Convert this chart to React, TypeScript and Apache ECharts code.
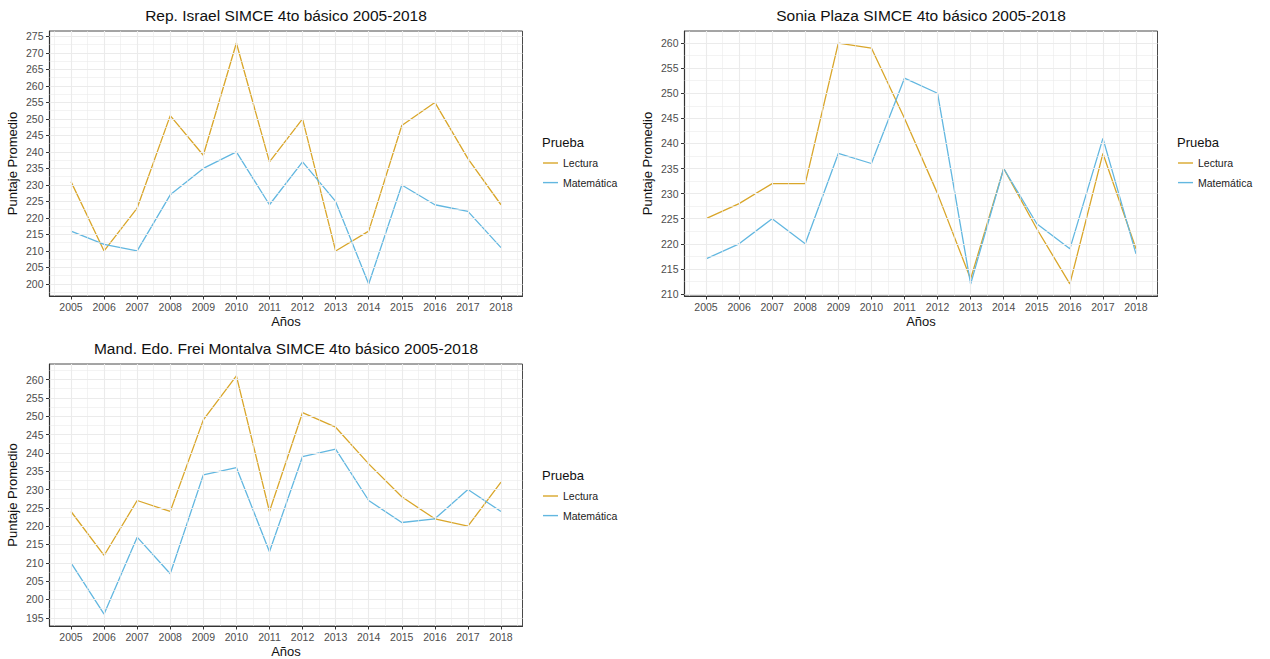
import React, { useEffect, useRef } from "react";
import * as echarts from "echarts";

// ---------- data ----------
const years = [2005, 2006, 2007, 2008, 2009, 2010, 2011, 2012, 2013, 2014, 2015, 2016, 2017, 2018];

const israelLectura = [231, 210, 223, 251, 239, 273, 237, 250, 210, 216, 248, 255, 238, 224];
const israelMatematica = [216, 212, 210, 227, 235, 240, 224, 237, 225, 200, 230, 224, 222, 211];

const soniaLectura = [225, 228, 232, 232, 260, 259, 245, 230, 213, 235, 223, 212, 238, 219];
const soniaMatematica = [217, 220, 225, 220, 238, 236, 253, 250, 212, 235, 224, 219, 241, 218];

const freiLectura = [224, 212, 227, 224, 249, 261, 224, 251, 247, 237, 228, 222, 220, 232];
const freiMatematica = [210, 196, 217, 207, 234, 236, 213, 239, 241, 227, 221, 222, 230, 224];

const israelYTicks = [200, 205, 210, 215, 220, 225, 230, 235, 240, 245, 250, 255, 260, 265, 270, 275];
const soniaYTicks = [210, 215, 220, 225, 230, 235, 240, 245, 250, 255, 260];
const freiYTicks = [195, 200, 205, 210, 215, 220, 225, 230, 235, 240, 245, 250, 255, 260];

const titles = [
  "Rep. Israel SIMCE 4to básico 2005-2018",
  "Sonia Plaza SIMCE 4to básico 2005-2018",
  "Mand. Edo. Frei Montalva SIMCE 4to básico 2005-2018",
];
const seriesNames = ["Lectura", "Matemática"];
const legendTitle = "Prueba";
const xAxisTitle = "Años";
const yAxisTitle = "Puntaje Promedio";

// ---------- style ----------
const FONT = "'Liberation Sans', Arial, Helvetica, sans-serif";
const COLORS = ["#D9A62A", "#62B7E0"];
const GRID_COLOR = "#EBEBEB";

const PANEL = { left: 49.5, top: 31, width: 473, height: 265 };
const OFFSETS = [
  { ox: 0, oy: 0 },
  { ox: 635, oy: 0 },
  { ox: 0, oy: 333 },
];

function expand(vals: number[]): [number, number] {
  const lo = Math.min(...vals);
  const hi = Math.max(...vals);
  const p = (hi - lo) * 0.05;
  return [lo - p, hi + p];
}

function minorBreaks(ticks: number[], lo: number, hi: number): number[] {
  const step = ticks[1] - ticks[0];
  const res: number[] = [];
  for (let v = ticks[0] - step / 2; v <= ticks[ticks.length - 1] + step / 2 + 1e-9; v += step) {
    if (v >= lo && v <= hi) res.push(v);
  }
  return res;
}

export default function App() {
  const ref = useRef<HTMLDivElement>(null);

  useEffect(() => {
    if (!ref.current) return;
    const chart = echarts.init(ref.current, undefined, { renderer: "svg" });

    const panels = [
      { title: titles[0], lect: israelLectura, mat: israelMatematica, yTicks: israelYTicks },
      { title: titles[1], lect: soniaLectura, mat: soniaMatematica, yTicks: soniaYTicks },
      { title: titles[2], lect: freiLectura, mat: freiMatematica, yTicks: freiYTicks },
    ];

    const [xlo, xhi] = expand(years);
    const xMinor = minorBreaks(years, xlo, xhi);

    const grid: any[] = [];
    const xAxis: any[] = [];
    const yAxis: any[] = [];
    const series: any[] = [];
    const legend: any[] = [];
    const graphic: any[] = [];

    panels.forEach((p, i) => {
      const { ox, oy } = OFFSETS[i];
      const [ylo, yhi] = expand([...p.lect, ...p.mat]);
      const yMinor = minorBreaks(p.yTicks, ylo, yhi);

      grid.push({
        left: PANEL.left + ox,
        top: PANEL.top + oy,
        width: PANEL.width,
        height: PANEL.height,
        show: true,
        backgroundColor: "#ffffff",
        borderColor: "#4a4a4a",
        borderWidth: 1,
        containLabel: false,
      });

      xAxis.push({
        type: "value",
        gridIndex: i,
        min: xlo,
        max: xhi,
        axisLine: { show: true, onZero: false, lineStyle: { color: "#333333", width: 1.2 } },
        axisTick: { show: true, length: 3.5, customValues: years, lineStyle: { color: "#333333", width: 1 } },
        axisLabel: {
          customValues: years,
          color: "#4D4D4D",
          fontSize: 10.5,
          margin: 5,
          fontFamily: FONT,
          formatter: (v: number) => String(Math.round(v)),
        },
        splitLine: { show: false },
        name: xAxisTitle,
        nameLocation: "middle",
        nameGap: 19,
        nameTextStyle: { fontSize: 13, color: "#111111", fontFamily: FONT },
      });

      yAxis.push({
        type: "value",
        gridIndex: i,
        min: ylo,
        max: yhi,
        axisLine: { show: true, onZero: false, lineStyle: { color: "#333333", width: 1.2 } },
        axisTick: { show: true, length: 3.5, customValues: p.yTicks, lineStyle: { color: "#333333", width: 1 } },
        axisLabel: {
          customValues: p.yTicks,
          color: "#4D4D4D",
          fontSize: 10.5,
          margin: 6,
          fontFamily: FONT,
          formatter: (v: number) => String(Math.round(v)),
        },
        splitLine: { show: false },
        name: yAxisTitle,
        nameLocation: "middle",
        nameGap: 31,
        nameTextStyle: { fontSize: 13, color: "#111111", fontFamily: FONT },
      });

      const minorStyle = { width: 0.6, color: GRID_COLOR, type: "solid" };
      const majorStyle = { width: 1.1, color: GRID_COLOR, type: "solid" };
      const mlData: any[] = [
        ...xMinor.map((v) => ({ xAxis: v, lineStyle: minorStyle })),
        ...yMinor.map((v) => ({ yAxis: v, lineStyle: minorStyle })),
        ...years.map((v) => ({ xAxis: v, lineStyle: majorStyle })),
        ...p.yTicks.map((v) => ({ yAxis: v, lineStyle: majorStyle })),
      ];

      series.push({
        type: "line",
        id: "grid" + i,
        xAxisIndex: i,
        yAxisIndex: i,
        data: [],
        silent: true,
        z: 1,
        markLine: {
          silent: true,
          symbol: ["none", "none"],
          label: { show: false },
          lineStyle: majorStyle,
          emphasis: { disabled: true },
          data: mlData,
        },
      });

      [p.lect, p.mat].forEach((vals, k) => {
        series.push({
          type: "line",
          name: seriesNames[k],
          xAxisIndex: i,
          yAxisIndex: i,
          data: years.map((y, j) => [y, vals[j]]),
          symbol: "none",
          lineStyle: { color: COLORS[k], width: 1.3 },
          itemStyle: { color: COLORS[k] },
          z: 3,
        });
      });

      legend.push({
        orient: "vertical",
        left: ox + 543,
        top: oy + 157.5,
        icon: "rect",
        itemWidth: 15,
        itemHeight: 1.4,
        itemGap: 8.6,
        padding: 0,
        data: seriesNames,
        textStyle: { fontSize: 10.5, color: "#222222", fontFamily: FONT },
      });

      graphic.push({
        type: "text",
        x: ox + PANEL.left + PANEL.width / 2,
        y: oy + 15,
        style: {
          text: p.title,
          textAlign: "center",
          textVerticalAlign: "middle",
          fontSize: 15.5,
          fontFamily: FONT,
          fill: "#111111",
        },
      });
      graphic.push({
        type: "text",
        x: ox + 542,
        y: oy + 142.5,
        style: {
          text: legendTitle,
          textAlign: "left",
          textVerticalAlign: "middle",
          fontSize: 13,
          fontFamily: FONT,
          fill: "#111111",
        },
      });
    });

    chart.setOption({
      animation: false,
      backgroundColor: "#ffffff",
      textStyle: { fontFamily: FONT },
      grid,
      xAxis,
      yAxis,
      series,
      legend,
      graphic,
    });

    return () => {
      chart.dispose();
    };
  }, []);

  return (
    <div
      ref={ref}
      style={{ position: "absolute", left: 0, top: 0, width: 1270, height: 659, background: "#ffffff" }}
    />
  );
}
